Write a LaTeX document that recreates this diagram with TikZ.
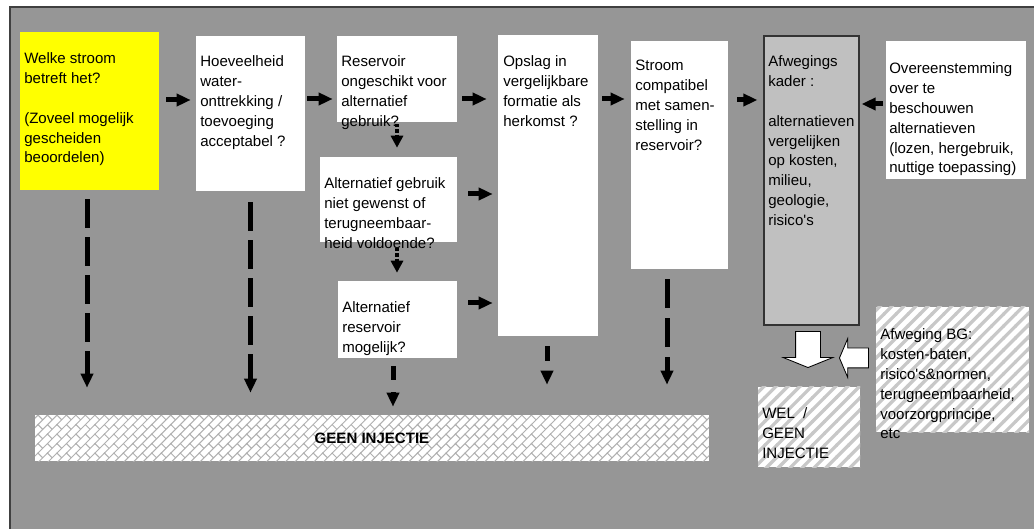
\documentclass[tikz,border=0pt]{standalone}
\usepackage{fontspec}
\setmainfont{Liberation Sans}
\usetikzlibrary{arrows.meta,shapes.arrows,patterns}
\definecolor{panelgray}{HTML}{969696}
\definecolor{kadergray}{HTML}{C0C0C0}
\definecolor{stripegray}{HTML}{C8C8C8}
\definecolor{brickgray}{HTML}{B0B0B0}
\definecolor{vraaggeel}{HTML}{FFFF00}

% brede schuine strepen
\pgfdeclarepatternformonly{strepen}{\pgfqpoint{-1pt}{-1pt}}{\pgfqpoint{9.5pt}{9.5pt}}{\pgfqpoint{8.5pt}{8.5pt}}{%
  \pgfsetlinewidth{2.3pt}%
  \pgfpathmoveto{\pgfqpoint{-1pt}{-1pt}}%
  \pgfpathlineto{\pgfqpoint{9.5pt}{9.5pt}}%
  \pgfusepath{stroke}}

% schuine stenen
\pgfdeclarepatternformonly{stenen}{\pgfqpoint{-1pt}{-1pt}}{\pgfqpoint{14.5pt}{14.5pt}}{\pgfqpoint{13.5pt}{13.5pt}}{%
  \pgfsetlinewidth{0.7pt}%
  \pgfpathmoveto{\pgfqpoint{-0.5pt}{-0.5pt}}\pgfpathlineto{\pgfqpoint{14pt}{14pt}}%
  \pgfpathmoveto{\pgfqpoint{-0.5pt}{6.25pt}}\pgfpathlineto{\pgfqpoint{7.25pt}{14pt}}%
  \pgfpathmoveto{\pgfqpoint{6.25pt}{-0.5pt}}\pgfpathlineto{\pgfqpoint{14pt}{7.25pt}}%
  \pgfpathmoveto{\pgfqpoint{0pt}{6.75pt}}\pgfpathlineto{\pgfqpoint{3.375pt}{3.375pt}}%
  \pgfpathmoveto{\pgfqpoint{6.75pt}{13.5pt}}\pgfpathlineto{\pgfqpoint{10.125pt}{10.125pt}}%
  \pgfpathmoveto{\pgfqpoint{0pt}{13.5pt}}\pgfpathlineto{\pgfqpoint{3.375pt}{10.125pt}}%
  \pgfpathmoveto{\pgfqpoint{6.75pt}{6.75pt}}\pgfpathlineto{\pgfqpoint{10.125pt}{3.375pt}}%
  \pgfusepath{stroke}}

\begin{document}
\begin{tikzpicture}[
  vak/.style={rectangle, fill=white, inner sep=0pt},
  tekst/.style={anchor=north west, inner sep=0pt, align=left, font=\fontsize{10.7pt}{14.2pt}\selectfont},
  pijl/.style={line width=0.125cm, -{Triangle[length=0.35cm,width=0.3cm]}},
  streeppijl/.style={pijl, dash pattern=on 0.725cm off 0.225cm},
  stippijl/.style={line width=0.1cm, dash pattern=on 0.08cm off 0.05cm, -{Triangle[length=0.3cm,width=0.3cm]}},
  blokpijl/.style={single arrow, draw=black, fill=white, line width=0.6pt, inner xsep=0pt}
]%
\useasboundingbox (0,0) rectangle (25.85,-13.225);%
\path[fill=panelgray, draw=black!75, line width=1.2pt] (0.25,-0.175) rectangle (26.2,-13.6);%
% vragen
\node[vak, fill=vraaggeel, minimum width=3.475cm, minimum height=3.95cm] (stroom) at (2.2375,-2.775) {};%
\node[tekst] (stroomtxt) at (0.6,-1.3) {Welke stroom\\betreft het?\\[14.2pt](Zoveel mogelijk\\gescheiden\\beoordelen)};%
\node[vak, minimum width=2.725cm, minimum height=3.875cm] (hoev) at (6.2625,-2.8375) {};%
\node[tekst] (hoevtxt) at (5.0,-1.375) {Hoeveelheid\\water-\\onttrekking /\\toevoeging\\acceptabel ?};%
\node[vak, minimum width=3.0cm, minimum height=2.15cm] (ongeschikt) at (9.925,-1.975) {};%
\node[tekst] (ongeschikttxt) at (8.525,-1.375) {Reservoir\\ongeschikt voor\\alternatief\\gebruik?};%
\node[vak, minimum width=3.425cm, minimum height=2.125cm] (gewenst) at (9.7125,-4.9875) {};%
\node[tekst] (gewensttxt) at (8.1,-4.425) {Alternatief gebruik\\niet gewenst of\\terugneembaar-\\heid voldoende?};%
\node[vak, minimum width=2.975cm, minimum height=1.925cm] (altres) at (9.9375,-7.9875) {};%
\node[tekst] (altrestxt) at (8.55,-7.525) {Alternatief\\reservoir\\mogelijk?};%
\node[vak, minimum width=2.5cm, minimum height=7.525cm] (opslag) at (13.7,-4.6375) {};%
\node[tekst] (opslagtxt) at (12.575,-1.375) {Opslag in\\vergelijkbare\\formatie als\\herkomst ?};%
\node[vak, minimum width=2.425cm, minimum height=5.7cm] (compat) at (16.9875,-3.875) {};%
\node[tekst] (compattxt) at (15.875,-1.5) {Stroom\\compatibel\\met samen-\\stelling in\\reservoir?};%
\node[vak, fill=kadergray, draw=black!80, line width=0.8pt, minimum width=2.375cm, minimum height=7.225cm] (kader) at (20.2875,-4.5125) {};%
\node[tekst] (kadertxt) at (19.2,-1.375) {Afwegings\\kader :\\[14.2pt]alternatieven\\vergelijken\\op kosten,\\milieu,\\geologie,\\risico\textquotesingle s};%
\node[vak, minimum width=3.5cm, minimum height=3.45cm] (overeen) at (23.9,-2.75) {};%
\node[tekst] (overeentxt) at (22.225,-1.55) {Overeenstemming\\over te\\beschouwen\\alternatieven\\(lozen, hergebruik,\\nuttige toepassing)};%
% uitkomsten
\node[vak, postaction={pattern=strepen, pattern color=stripegray}, minimum width=3.825cm, minimum height=3.125cm] (afwegingbg) at (23.8125,-9.2375) {};%
\node[tekst] (afwegingbgtxt) at (22.0,-8.2) {Afweging BG:\\kosten-baten,\\risico\textquotesingle s\&normen,\\terugneembaarheid,\\voorzorgprincipe,\\etc};%
\node[vak, postaction={pattern=strepen, pattern color=stripegray}, minimum width=2.55cm, minimum height=2.0cm] (uitkomst) at (20.225,-10.675) {};%
\node[tekst] (uitkomsttxt) at (19.05,-10.175) {WEL\ \ /\\GEEN\\INJECTIE};%
\node[vak, postaction={pattern=stenen, pattern color=brickgray}, minimum width=16.85cm, minimum height=1.15cm, font=\fontsize{10.7pt}{14.2pt}\selectfont\bfseries] (geen) at (9.3,-10.95) {GEEN INJECTIE};%
% pijlen tussen de vragen
\draw[pijl, shorten <=0.175cm, shorten >=0.125cm] (stroom.east |- 0,-2.5) -- (hoev.west |- 0,-2.5);%
\draw[pijl, shorten <=0.05cm, shorten >=0.1cm] (hoev.east |- 0,-2.475) -- (ongeschikt.west |- 0,-2.475);%
\draw[pijl, shorten <=0.125cm, shorten >=0.275cm] (ongeschikt.east |- 0,-2.475) -- (opslag.west |- 0,-2.475);%
\draw[pijl, shorten <=0.1cm, shorten >=0.15cm] (opslag.east |- 0,-2.475) -- (compat.west |- 0,-2.475);%
\draw[pijl, shorten <=0.225cm, shorten >=0.15cm] (compat.east |- 0,-2.5) -- (kader.west |- 0,-2.5);%
\draw[pijl, shorten <=0.075cm, shorten >=0.05cm] (overeen.west |- 0,-2.6) -- (kader.east |- 0,-2.6);%
\draw[pijl, shorten <=0.275cm, shorten >=0.125cm] (gewenst.east |- 0,-4.85) -- (opslag.west |- 0,-4.85);%
\draw[pijl, shorten <=0.275cm, shorten >=0.125cm] (altres.east |- 0,-7.575) -- (opslag.west |- 0,-7.575);%
\draw[stippijl, shorten <=0.05cm, shorten >=0.225cm] (ongeschikt.south) -- (ongeschikt.south |- gewenst.north);%
\draw[stippijl, shorten <=0.15cm, shorten >=0.2cm] (gewenst.south -| ongeschikt.south) -- (altres.north -| ongeschikt.south);%
% naar geen injectie
\draw[streeppijl, shorten <=0.225cm, shorten >=0.675cm] ([xshift=-0.0625cm]stroom.south) -- ([xshift=-0.0625cm]stroom.south |- geen.north);%
\draw[streeppijl, shorten <=0.275cm, shorten >=0.55cm] (hoev.south) -- (hoev.south |- geen.north);%
\draw[pijl, dash pattern=on 0.35cm off 0.3cm, shorten <=0.2cm, shorten >=0.2cm] ([xshift=-0.1125cm]altres.south) -- ([xshift=-0.1125cm]altres.south |- geen.north);%
\draw[pijl, dash pattern=on 0.375cm off 0.25cm, shorten <=0.25cm, shorten >=0.75cm] ([xshift=-0.025cm]opslag.south) -- ([xshift=-0.025cm]opslag.south |- geen.north);%
\draw[pijl, dash pattern=on 0.725cm off 0.25cm, shorten <=0.25cm, shorten >=0.75cm] ([xshift=-0.3125cm]compat.south) -- ([xshift=-0.3125cm]compat.south |- geen.north);%
% blokpijlen
\node[blokpijl, rotate=-90, anchor=tip, minimum height=0.9cm, inner ysep=0.3cm, single arrow head extend=0.3125cm, single arrow tip angle=136] (omlaag) at (20.2,-9.2) {};%
\node[blokpijl, rotate=180, anchor=tip, minimum height=0.725cm, inner ysep=0.2375cm, single arrow head extend=0.2375cm, single arrow tip angle=134] (naarlinks) at (20.975,-8.95) {};%
\end{tikzpicture}
\end{document}
